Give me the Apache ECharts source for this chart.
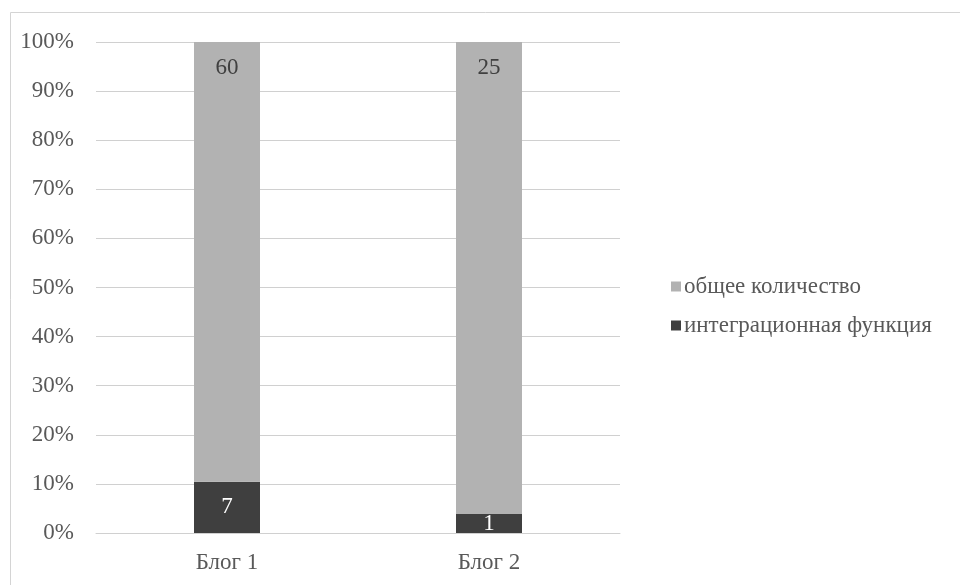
<!DOCTYPE html>
<html>
<head>
<meta charset="utf-8">
<script src="https://cdn.jsdelivr.net/npm/echarts@6/dist/echarts.min.js"></script>
<style>html,body{margin:0;padding:0;background:#fff;}#c{width:960px;height:585px;}</style>
</head>
<body>
<div id="c"></div>
<script>
const categories = ['Блог 1', 'Блог 2'];
const integration = [7, 1];
const total = [60, 25];
const yTicks = [0, 10, 20, 30, 40, 50, 60, 70, 80, 90, 100];
const seriesNames = ['общее количество', 'интеграционная функция'];

const sums = categories.map((_, i) => integration[i] + total[i]);
const pct = (arr) => arr.map((v, i) => ({ value: v / sums[i] * 100, raw: v }));

const font = '"Liberation Serif", "DejaVu Serif", serif';
const chart = echarts.init(document.getElementById('c'));
chart.setOption({
  animation: false,
  backgroundColor: '#fff',
  textStyle: { fontFamily: font },
  graphic: [{
    type: 'rect', silent: true,
    shape: { x: 10.5, y: 12.5, width: 1000, height: 700 },
    style: { fill: 'none', stroke: '#d4d4d4', lineWidth: 1 }
  }],
  grid: { left: 96, right: 340, top: 42, bottom: 52 },
  legend: {
    orient: 'vertical', left: 666, top: 270,
    data: seriesNames,
    itemWidth: 10, itemHeight: 10, itemGap: 16,
    icon: 'rect',
    textStyle: { fontFamily: font, fontSize: 23, color: '#595959', padding: [0, 0, 0, -2] }
  },
  xAxis: {
    type: 'category', data: categories,
    axisLine: { lineStyle: { color: '#d0d0d0', width: 1 } },
    axisTick: { show: false },
    axisLabel: { fontFamily: font, fontSize: 23, color: '#595959', margin: 18 }
  },
  yAxis: {
    type: 'value', min: 0, max: 100, interval: 10,
    axisLabel: {
      fontFamily: font, fontSize: 23, color: '#595959', margin: 22,
      formatter: (v) => yTicks.includes(v) ? v + '%' : ''
    },
    splitLine: { lineStyle: { color: '#d0d0d0', width: 1 } },
    axisLine: { show: false }, axisTick: { show: false }
  },
  series: [
    {
      name: seriesNames[1], type: 'bar', stack: 's', barWidth: 66,
      data: pct(integration),
      itemStyle: { color: '#3f3f3f' },
      label: {
        show: true, position: 'inside', fontFamily: font, fontSize: 23, color: '#ffffff',
        formatter: (p) => p.data.raw
      }
    },
    {
      name: seriesNames[0], type: 'bar', stack: 's', barWidth: 66,
      data: pct(total),
      itemStyle: { color: '#b2b2b2' },
      label: {
        show: true, position: 'insideTop', distance: 14, fontFamily: font, fontSize: 23, color: '#404040',
        formatter: (p) => p.data.raw
      }
    }
  ]
});
</script>
</body>
</html>
